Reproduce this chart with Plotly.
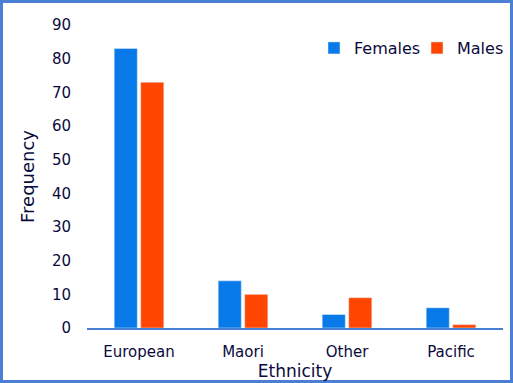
import plotly.graph_objects as go

categories = ["European", "Maori", "Other", "Pacific"]
females = [83, 14, 4, 6]
males = [73, 10, 9, 1]
y_ticks = [0, 10, 20, 30, 40, 50, 60, 70, 80, 90]

W, H = 513, 383
ML, MR, MT, MB = 87, 10, 25, 55
pw = W - ML - MR
ph = H - MT - MB
txt = "#0a0a3c"
font = "DejaVu Sans"

fig = go.Figure()
fig.add_trace(go.Bar(name="Females", x=categories, y=females, marker_color="#0779e8"))
fig.add_trace(go.Bar(name="Males", x=categories, y=males, marker_color="#ff4500"))

fig.update_layout(
    width=W, height=H,
    margin=dict(l=ML, r=MR, t=MT, b=MB, autoexpand=False),
    paper_bgcolor="white", plot_bgcolor="white",
    barmode="group", bargap=0.49, bargroupgap=0.13,
    font=dict(family=font, color=txt, size=15),
    showlegend=True,
    legend=dict(orientation="h", x=(314 - ML) / pw, xanchor="left", y=0.924, yanchor="middle",
                font=dict(size=16, color=txt), bgcolor="rgba(0,0,0,0)",
                itemwidth=30, tracegroupgap=0, entrywidth=58, entrywidthmode="pixels"),
    xaxis=dict(showgrid=False, showline=True, linecolor="#4a7fd4", linewidth=1.5,
               ticks="", ticklabelstandoff=9, tickfont=dict(size=15, color=txt),
               title=dict(text="Ethnicity", font=dict(size=17, color=txt), standoff=0)),
    yaxis=dict(range=[0, 90], tickvals=y_ticks, showgrid=False, showline=False,
               zeroline=False, ticks="", ticklabelstandoff=15,
               tickfont=dict(size=15, color=txt),
               title=dict(text="Frequency", font=dict(size=18, color=txt), standoff=12)),
)

fig.add_shape(type="rect", xref="paper", yref="paper",
              x0=(1.5 - ML) / pw, x1=(W - 1.5 - ML) / pw,
              y0=-(H - 1.5 - MT - ph) / ph, y1=(MT - 1.5) / ph + 1,
              line=dict(color="#4a7fd4", width=3), fillcolor="rgba(0,0,0,0)", layer="below")

fig.write_html("out.html", config={"displayModeBar": False},
               post_script="document.body.style.margin='0';document.body.style.overflow='hidden';")
